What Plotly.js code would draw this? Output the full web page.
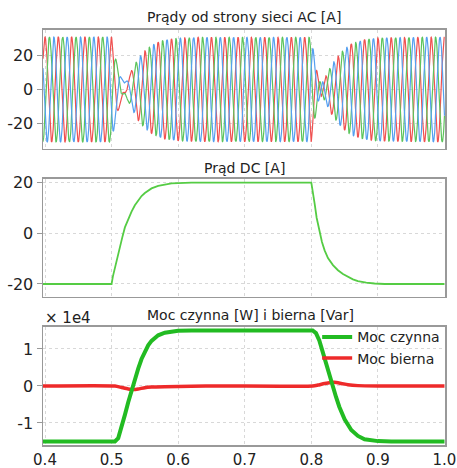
<!DOCTYPE html>
<html>
<head>
<meta charset="utf-8">
<script src="https://cdn.plot.ly/plotly-3.0.1.min.js"></script>
<style>html,body{margin:0;padding:0;background:#fff;}#chart{width:457px;height:468px;}</style>
</head>
<body>
<div id="chart"></div>
<script>
// ---- Data ----
// AC grid current: 50 Hz three-phase, signed envelope (A)
var acFreq = 50;
var acEnvT = [0.397, 0.5, 0.505, 0.51, 0.515, 0.52, 0.53, 0.54, 0.55, 0.56, 0.57, 0.58, 0.6, 0.63, 0.8, 0.805, 0.81, 0.815, 0.82, 0.83, 0.84, 0.85, 0.86, 0.88, 0.9, 1.0];
var acEnvA = [-30.5, -30.5, -20, -12, -5, 2, 11, 18, 22.5, 25.5, 27.5, 28.8, 29.8, 30.3, 30.3, 18, 7, 0, -6, -14, -19.5, -23.5, -26.5, -29, -30, -30.5];
var acQuadT = [0.397, 0.5, 0.51, 0.517, 0.525, 0.54, 0.8, 0.807, 0.815, 0.822, 0.84, 1.0];
var acQuadA = [0, 0, 3, 4, 3, 0, 0, 3, 4, 3, 0, 0];

// DC current [A]
var dcT = [0.397, 0.5, 0.502, 0.505, 0.5075, 0.51, 0.5125, 0.516, 0.52, 0.525, 0.53, 0.535, 0.54, 0.545, 0.55, 0.555, 0.56, 0.57, 0.58, 0.59, 0.6, 0.62,
           0.8, 0.802, 0.805, 0.808, 0.8125, 0.816, 0.82, 0.825, 0.8325, 0.84, 0.8475, 0.855, 0.8625, 0.87, 0.8825, 0.895, 0.91, 1.0];
var dcI = [-20, -20, -17, -13.5, -10.6, -7.8, -5.2, -1.8, 2.2, 5.4, 8.4, 10.9, 12.9, 14.5, 15.7, 16.7, 17.5, 18.5, 19.1, 19.45, 19.6, 19.75,
           19.75, 17, 11.5, 6, 0.5, -3.5, -6.8, -9.8, -12.6, -14.6, -16.1, -17.3, -18.2, -18.9, -19.5, -19.8, -20, -20];

// Active power [W]
var pT = [0.397, 0.505, 0.51, 0.515, 0.52, 0.525, 0.53, 0.535, 0.54, 0.545, 0.55, 0.555, 0.56, 0.57, 0.58, 0.59, 0.6, 0.62, 0.64,
          0.802, 0.807, 0.812, 0.817, 0.822, 0.827, 0.832, 0.837, 0.842, 0.85, 0.86, 0.87, 0.88, 0.89, 0.9, 0.92, 1.0];
var pW = [-15000, -15000, -14100, -11300, -7800, -4400, -1100, 1900, 4700, 7300, 9400, 11000, 12200, 13700, 14400, 14750, 14900, 15000, 15000,
          15000, 14300, 12300, 9300, 6000, 3000, 0, -2900, -5600, -9000, -11900, -13500, -14400, -14750, -14900, -15000, -15000];

// Reactive power [Var]
var qT = [0.397, 0.505, 0.515, 0.525, 0.533, 0.54, 0.55, 0.56, 0.58, 0.62, 0.66, 0.802, 0.81, 0.82, 0.8345, 0.845, 0.855, 0.87, 0.9, 1.0];
var qVar = [0, 0, -400, -800, -950, -800, -450, -300, -200, -80, 0, 0, 250, 650, 1000, 700, 350, 100, 0, 0];

var titles = ['Prądy od strony sieci AC [A]', 'Prąd DC [A]', 'Moc czynna [W] i bierna [Var]'];
var seriesNames = ['Moc czynna', 'Moc bierna'];
var xTicks = [0.4, 0.5, 0.6, 0.7, 0.8, 0.9, 1.0];
var xTickText = ['0.4', '0.5', '0.6', '0.7', '0.8', '0.9', '1.0'];
var currentTicks = [-20, 0, 20];
var currentTickText = ['-20', '0', '20'];
var powerTicks = [-10000, 0, 10000];
var powerTickText = ['-1', '0', '1'];

// ---- build AC phase waveforms from the read envelope ----
function lerp(ts, vs, t) {
  if (t <= ts[0]) return vs[0];
  for (var i = 1; i < ts.length; i++) {
    if (t <= ts[i]) {
      var f = (t - ts[i-1]) / (ts[i] - ts[i-1]);
      return vs[i-1] + f * (vs[i] - vs[i-1]);
    }
  }
  return vs[vs.length - 1];
}
var acColors = ['#f05050', '#5cc45c', '#55a0f0'];
var phaseOffsets = [-Math.PI/2, -Math.PI/2 - 2*Math.PI/3, -Math.PI/2 + 2*Math.PI/3];
var tt = [];
for (var k = 0; k <= 2412; k++) tt.push(0.397 + k * 0.00025);
var acTraces = [];
for (var p = 0; p < 3; p++) {
  var ys = tt.map(function (t) {
    var th = 2 * Math.PI * acFreq * t + phaseOffsets[p];
    return lerp(acEnvT, acEnvA, t) * Math.sin(th) + lerp(acQuadT, acQuadA, t) * Math.cos(th);
  });
  acTraces.push({x: tt, y: ys, type: 'scatter', mode: 'lines', xaxis: 'x', yaxis: 'y',
    line: {color: acColors[p], width: 1.2}, showlegend: false, hoverinfo: 'skip'});
}

var traces = acTraces.concat([
  {x: dcT, y: dcI, type: 'scatter', mode: 'lines', xaxis: 'x2', yaxis: 'y2',
   line: {color: '#55cc44', width: 1.8}, showlegend: false},
  {x: qT, y: qVar, type: 'scatter', mode: 'lines', xaxis: 'x3', yaxis: 'y3', name: seriesNames[1],
   line: {color: '#ee2a2a', width: 3.5, shape: 'spline', smoothing: 0.6}},
  {x: pT, y: pW, type: 'scatter', mode: 'lines', xaxis: 'x3', yaxis: 'y3', name: seriesNames[0],
   line: {color: '#22bb22', width: 4}}
]);

var fnt = {family: 'DejaVu Sans, Verdana, sans-serif', size: 16, color: '#222'};
function xax(anchor, labels) {
  return {anchor: anchor, range: [0.397, 1.0008], tickvals: xTicks, ticktext: xTickText,
    showticklabels: labels, ticks: '', ticklen: 0,
    showgrid: true, gridcolor: '#d8d8d8', griddash: 'dot', gridwidth: 1,
    showline: true, mirror: true, linecolor: '#999', linewidth: 1.5, zeroline: false,
    tickfont: {family: 'DejaVu Sans, Verdana, sans-serif', size: 15, color: '#222'}};
}
function yax(anchor, dom, range, extra) {
  var o = {anchor: anchor, domain: dom, range: range, ticks: 'outside', ticklen: 5, tickcolor: '#999',
    showgrid: true, gridcolor: '#d8d8d8', griddash: 'dot', gridwidth: 1,
    showline: true, mirror: true, linecolor: '#999', linewidth: 1.5, zeroline: false,
    tickfont: fnt};
  for (var key in extra) o[key] = extra[key];
  return o;
}

var layout = {
  width: 457, height: 468,
  margin: {l: 43, r: 12, t: 0, b: 23},
  paper_bgcolor: '#fff', plot_bgcolor: '#fff',
  font: {family: 'DejaVu Sans, Verdana, sans-serif', color: '#222'},
  xaxis: xax('y', false),
  xaxis2: xax('y2', false),
  xaxis3: xax('y3', true),
  yaxis: yax('x', [0.6652, 0.9326], [-34.6, 34.6], {tickvals: currentTicks, ticktext: currentTickText}),
  yaxis2: yax('x2', [0.3326, 0.5978], [-25.1, 21.2], {tickvals: currentTicks, ticktext: currentTickText}),
  yaxis3: yax('x3', [0, 0.2652], [-15950, 15950], {tickvals: powerTicks, ticktext: powerTickText}),
  showlegend: true,
  legend: {x: 0.682, xanchor: 'left', y: 0.278, yanchor: 'top', bgcolor: 'rgba(0,0,0,0)',
    font: {family: 'DejaVu Sans, Verdana, sans-serif', size: 14, color: '#222'},
    traceorder: 'reversed', tracegroupgap: 0},
  annotations: [
    {text: titles[0], xref: 'paper', yref: 'paper', x: 0.5, y: 0.9618, xanchor: 'center', yanchor: 'middle',
     showarrow: false, font: {size: 14, color: '#222'}},
    {text: titles[1], xref: 'paper', yref: 'paper', x: 0.5, y: 0.6225, xanchor: 'center', yanchor: 'middle',
     showarrow: false, font: {size: 14, color: '#222'}},
    {text: titles[2], xref: 'paper', yref: 'paper', x: 0.515, y: 0.2921, xanchor: 'center', yanchor: 'middle',
     showarrow: false, font: {size: 14, color: '#222'}},
    {text: '× 1e4', xref: 'paper', yref: 'paper', x: 0, y: 0.2854, xanchor: 'left', yanchor: 'middle',
     showarrow: false, font: {size: 15, color: '#222'}}
  ]
};

Plotly.newPlot('chart', traces, layout, {staticPlot: true, displayModeBar: false});
</script>
</body>
</html>
